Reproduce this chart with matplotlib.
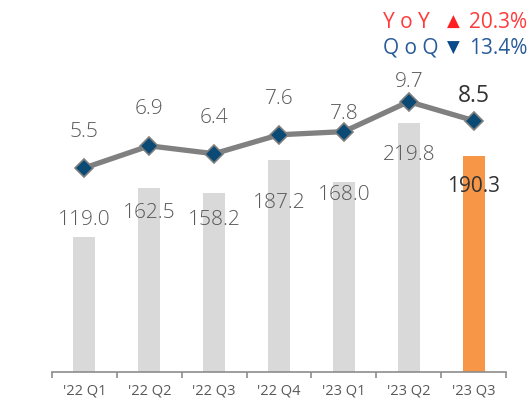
import numpy as np
import matplotlib
matplotlib.use('Agg')
from matplotlib import pyplot as plt

plt.rcParams['font.family'] = ['Open Sans', 'DejaVu Sans']

# 季度、营收（柱）和利润（折线）
quarters = ["'22 Q1", "'22 Q2", "'22 Q3", "'22 Q4", "'23 Q1", "'23 Q2", "'23 Q3"]
revenue = [119.0, 162.5, 158.2, 187.2, 168.0, 219.8, 190.3]
profit = [5.5, 6.9, 6.4, 7.6, 7.8, 9.7, 8.5]
yoy_text = '20.3%'
qoq_text = '13.4%'

# 标签相对柱顶 / 点的偏移（像素）
bar_label_dy = [17, -25, -27, -43, -13, -32, -30]
line_label_dy = [36, 37, 36, 36, 18, 20, 25]

fig = plt.figure(figsize=(5.3, 4.04), dpi=100)
ax = fig.add_axes([52 / 530, 32 / 404, 454 / 530, 331.6 / 404])
x = np.arange(len(quarters))

colors = ['#D9D9D9'] * (len(quarters) - 1) + ['#F79646']
ax.bar(x, revenue, width=0.34, color=colors, zorder=1)
ax.set_xlim(-0.5, len(quarters) - 0.5)
ax.set_ylim(0, 292.7)

for i, v in enumerate(revenue):
    last = i == len(revenue) - 1
    ax.annotate('{:.1f}'.format(v), (x[i], v), xytext=(0, bar_label_dy[i]),
                textcoords='offset pixels', ha='center', va='center',
                fontsize=15, color='#333333' if last else '#595959',
                fontweight='normal' if last else 'light', zorder=5)

ax2 = ax.twinx()
ax2.plot(x, profit, color='#808080', lw=3.8, marker='D', ms=9.5,
         mfc='#0B4A75', mec='#7F7F7F', mew=1.2, zorder=3)
ax2.set_ylim(-7.43, 13.58)
for i, v in enumerate(profit):
    last = i == len(profit) - 1
    ax2.annotate('{:.1f}'.format(v), (x[i], v), xytext=(0, line_label_dy[i]),
                 textcoords='offset pixels', ha='center', va='center',
                 fontsize=16.5 if last else 15, color='#333333' if last else '#595959',
                 fontweight='normal' if last else 'light')

for a in (ax, ax2):
    for s in ['top', 'right', 'left']:
        a.spines[s].set_visible(False)
    a.set_yticks([])
ax2.spines['bottom'].set_visible(False)
ax.spines['bottom'].set_color('#8C8C8C')
ax.spines['bottom'].set_linewidth(1.2)

ax.set_xticks(x)
ax.set_xticklabels(quarters, fontsize=10.5, color='#595959')
ax.tick_params(axis='x', which='major', length=0, pad=8)
ax.set_xticks(np.arange(-0.5, len(quarters)), minor=True)
ax.tick_params(axis='x', which='minor', length=4, width=1.2, color='#8C8C8C')

# 右上角同比、环比
fig.text(383 / 530, 1 - 22 / 404, 'Y o Y', color='#FF3B3B', fontsize=15, va='center', ha='left')
fig.text(447 / 530, 1 - 22 / 404, '▲', color='#FF1F1F', fontsize=12, va='center', ha='left',
         family='DejaVu Sans')
fig.text(527 / 530, 1 - 22 / 404, yoy_text, color='#FF3B3B', fontsize=15, va='center', ha='right')
fig.text(383 / 530, 1 - 48 / 404, 'Q o Q', color='#2A5C9A', fontsize=15, va='center', ha='left')
fig.text(447 / 530, 1 - 48 / 404, '▼', color='#0B4A8A', fontsize=12, va='center', ha='left',
         family='DejaVu Sans')
fig.text(527 / 530, 1 - 48 / 404, qoq_text, color='#2A5C9A', fontsize=15, va='center', ha='right')

fig.savefig('out.png', dpi=100)
